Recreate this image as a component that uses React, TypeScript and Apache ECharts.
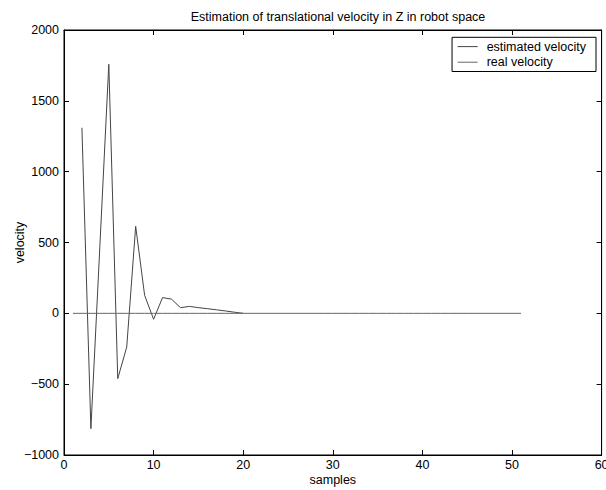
import React, { useEffect, useRef } from "react";
import * as echarts from "echarts";

const estSamples = [2, 3, 4, 5, 6, 7, 8, 9, 10, 11, 12, 13, 14, 15, 16, 17, 18, 19, 20];
const estimatedVelocity = [1310, -814, 470, 1758, -461, -238, 614, 127, -42, 111, 100, 40, 49, 40, 33, 25, 17, 8, 0];
const realSamples = [1, 2, 3, 4, 5, 6, 7, 8, 9, 10, 11, 12, 13, 14, 15, 16, 17, 18, 19, 20, 21, 22, 23, 24, 25, 26, 27, 28, 29, 30, 31, 32, 33, 34, 35, 36, 37, 38, 39, 40, 41, 42, 43, 44, 45, 46, 47, 48, 49, 50, 51];
const realVelocity = [0, 0, 0, 0, 0, 0, 0, 0, 0, 0, 0, 0, 0, 0, 0, 0, 0, 0, 0, 0, 0, 0, 0, 0, 0, 0, 0, 0, 0, 0, 0, 0, 0, 0, 0, 0, 0, 0, 0, 0, 0, 0, 0, 0, 0, 0, 0, 0, 0, 0, 0];

const FONT = "Liberation Sans, Arial, Helvetica, sans-serif";
const FS = 12.5;

export default function App() {
  const ref = useRef<HTMLDivElement>(null);
  useEffect(() => {
    document.body.style.margin = "0";
    const chart = echarts.init(ref.current!, null, { renderer: "svg" });
    const tickStyle = { show: true, inside: true, length: 5, lineStyle: { color: "#000", width: 1 } };
    const fmt = (v: number) => String(v).replace("-", "\u2212");
    chart.setOption({
      animation: false,
      backgroundColor: "#fff",
      title: {
        text: "Estimation of translational velocity in Z in robot space",
        left: 333,
        textAlign: "center",
        top: 5,
        textStyle: { fontFamily: FONT, fontSize: FS, fontWeight: "normal", color: "#000" },
      },
      grid: {
        left: 64, right: 4.4, top: 30, bottom: 35,
        containLabel: false, outerBoundsMode: "none",
        show: true, borderColor: "#000", borderWidth: 1, backgroundColor: "transparent",
      },
      legend: {
        orient: "vertical",
        right: 10,
        top: 37.3,
        backgroundColor: "#fff",
        borderColor: "#000",
        borderWidth: 1,
        borderRadius: 0,
        padding: [1.5, 10, 1.5, 5.6],
        itemGap: 0,
        itemWidth: 20,
        itemHeight: 1,
        icon: "rect",
        textStyle: { fontFamily: FONT, fontSize: FS, color: "#000", lineHeight: 15.6, padding: [0, 0, 0, 4] },
        data: ["estimated velocity", "real velocity"],
      },
      xAxis: [
        {
          type: "value", min: 0, max: 60, interval: 10,
          name: "samples", nameLocation: "middle", nameGap: 18, nameMoveOverlap: false,
          nameTextStyle: { fontFamily: FONT, fontSize: FS, color: "#000" },
          axisLine: { show: true, onZero: false, lineStyle: { color: "#000" } },
          axisTick: tickStyle,
          axisLabel: { fontFamily: FONT, fontSize: FS, color: "#000", margin: 3 },
          splitLine: { show: false },
        },
        {
          type: "value", min: 0, max: 60, interval: 10, position: "top",
          axisLine: { show: true, onZero: false, lineStyle: { color: "#000" } },
          axisTick: tickStyle, axisLabel: { show: false }, splitLine: { show: false },
        },
      ],
      yAxis: [
        {
          type: "value", min: -1000, max: 2000, interval: 500,
          name: "velocity", nameLocation: "middle", nameGap: 38, nameMoveOverlap: false,
          nameTextStyle: { fontFamily: FONT, fontSize: FS, color: "#000" },
          axisLine: { show: true, onZero: false, lineStyle: { color: "#000" } },
          axisTick: tickStyle,
          axisLabel: { fontFamily: FONT, fontSize: FS, color: "#000", margin: 5, formatter: fmt },
          splitLine: { show: false },
        },
        {
          type: "value", min: -1000, max: 2000, interval: 500, position: "right",
          axisLine: { show: true, onZero: false, lineStyle: { color: "#000" } },
          axisTick: tickStyle, axisLabel: { show: false }, splitLine: { show: false },
        },
      ],
      series: [
        {
          name: "estimated velocity", type: "line", symbol: "none",
          lineStyle: { color: "#444", width: 1 }, itemStyle: { color: "#444" },
          data: estSamples.map((s, i) => [s, estimatedVelocity[i]]),
        },
        {
          name: "real velocity", type: "line", symbol: "none",
          lineStyle: { color: "#666", width: 1 }, itemStyle: { color: "#666" },
          data: realSamples.map((s, i) => [s, realVelocity[i]]),
        },
      ],
    });
    return () => chart.dispose();
  }, []);
  return <div ref={ref} style={{ width: 606, height: 490 }} />;
}
